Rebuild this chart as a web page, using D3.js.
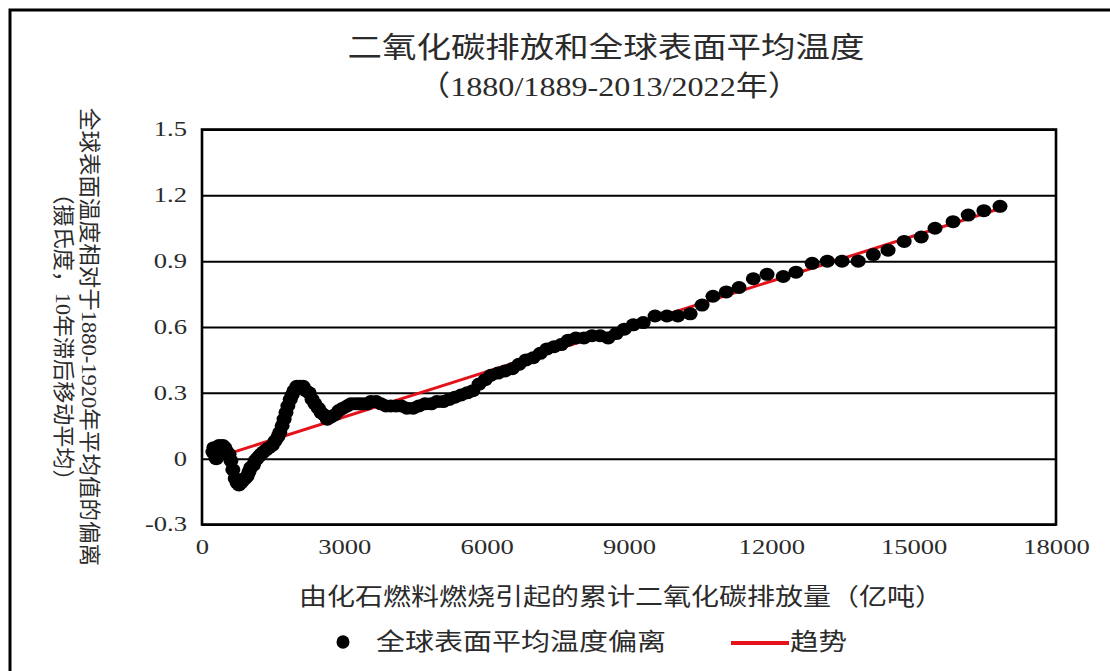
<!DOCTYPE html>
<html><head><meta charset="utf-8">
<script src="https://cdn.jsdelivr.net/npm/d3@7"></script>
<style>body{margin:0;background:#fff}svg{display:block}</style>
</head><body><svg id="c" width="1110" height="671"></svg>
<script>
// ---- data ----
const emissions = [230,250,270,300,320,360,400,440,480,530,
 570,610,650,700,740,780,820,860,910,950,
 990,1030,1080,1120,1160,1200,1240,1290,1350,1410,
 1480,1540,1600,1640,1690,1730,1770,1810,1860,1900,
 1940,2000,2070,2130,2190,2260,2320,2380,2450,2510,
 2570,2640,2720,2800,2890,2970,3060,3140,3230,3310,
 3390,3480,3560,3670,3770,3880,3980,4090,4200,4320,
 4450,4570,4700,4830,4950,5080,5210,5330,5460,5590,
 5710,5840,5970,6090,6240,6390,6540,6680,6830,6980,
 7130,7270,7420,7570,7720,7880,8050,8220,8390,8560,
 8730,8900,9090,9300,9550,9800,10030,10290,10540,10770,
 11050,11320,11620,11910,12250,12520,12860,13180,13490,13830,
 14150,14460,14800,15160,15450,15830,16150,16480,16820];
const tempAnomaly = [0.03,0.05,0.02,0.00,0.04,0.06,0.05,0.06,0.05,0.03,
 0.02,-0.01,-0.05,-0.09,-0.11,-0.12,-0.11,-0.10,-0.09,-0.08,
 -0.06,-0.04,-0.03,-0.01,0.00,0.01,0.02,0.03,0.04,0.05,
 0.06,0.08,0.10,0.12,0.15,0.18,0.21,0.24,0.27,0.29,
 0.31,0.33,0.33,0.33,0.31,0.30,0.27,0.25,0.23,0.21,
 0.20,0.18,0.19,0.20,0.22,0.23,0.24,0.25,0.25,0.25,
 0.25,0.25,0.26,0.26,0.25,0.24,0.24,0.24,0.24,0.23,
 0.23,0.24,0.25,0.25,0.26,0.26,0.27,0.28,0.29,0.30,
 0.31,0.34,0.36,0.38,0.39,0.40,0.41,0.43,0.45,0.46,
 0.48,0.50,0.51,0.52,0.54,0.55,0.55,0.56,0.56,0.55,
 0.57,0.59,0.61,0.62,0.65,0.65,0.65,0.66,0.70,0.74,
 0.76,0.78,0.82,0.84,0.83,0.85,0.89,0.90,0.90,0.90,
 0.93,0.95,0.99,1.01,1.05,1.08,1.11,1.13,1.15];
const trendEmissions = [230, 16820];
const trendTemp = [0.0, 1.14];
const xTicks = [0,3000,6000,9000,12000,15000,18000];
const yTicks = [-0.3,0,0.3,0.6,0.9,1.2,1.5];
const yTickLabels = ["-0.3","0","0.3","0.6","0.9","1.2","1.5"];
const titleText = "二氧化碳排放和全球表面平均温度";
const subtitleText = "（1880/1889-2013/2022年）";
const xTitle = "由化石燃料燃烧引起的累计二氧化碳排放量（亿吨）";
const yTitle1 = "全球表面温度相对于1880-1920年平均值的偏离";
const yTitle2 = "（摄氏度，10年滞后移动平均）";
const legendLabels = ["全球表面平均温度偏离","趋势"];

// ---- drawing ----
const FONT = "'Liberation Serif','Noto Sans CJK SC',serif";
const TXT = "#2b2b2b";
const RED = "#e5121b";
const svg = d3.select("#c");
svg.append("rect").attr("width",1110).attr("height",671).attr("fill","#fff");
// outer frame (right/bottom edges fall outside the picture)
svg.append("rect").attr("x",10).attr("y",10).attr("width",1200).attr("height",800)
  .attr("fill","none").attr("stroke","#000").attr("stroke-width",3);

const L=202, R=1056, T=129.5, B=524.5;
const x = d3.scaleLinear().domain([0,18000]).range([L,R]);
const y = d3.scaleLinear().domain([-0.3,1.5]).range([B,T]);

// y axis with gridlines
const gy = svg.append("g").attr("transform",`translate(${L},0)`)
  .call(d3.axisLeft(y).tickValues(yTicks).tickSize(-(R-L)).tickFormat((d,i)=>yTickLabels[i]));
gy.select(".domain").remove();
gy.selectAll("line").attr("stroke","#000").attr("stroke-width",2);
gy.selectAll("text").attr("x",-15/1.33).attr("transform","scale(1.33,1)")
  .attr("font-family",FONT).attr("font-size",20).attr("fill",TXT);

// x axis labels
const gx = svg.append("g").attr("transform",`translate(0,${B})`)
  .call(d3.axisBottom(x).tickValues(xTicks).tickSize(0).tickFormat(d3.format("d")));
gx.select(".domain").remove();
gx.selectAll("text").attr("y",23).attr("dy","0.35em").attr("transform","scale(1.33,1)")
  .attr("font-family",FONT).attr("font-size",20).attr("fill",TXT);

// plot border
svg.append("rect").attr("x",L).attr("y",T).attr("width",R-L).attr("height",B-T)
  .attr("fill","none").attr("stroke","#000").attr("stroke-width",2.6);

// trend line
const trend = trendEmissions.map((e,i)=>[e,trendTemp[i]]);
svg.append("path").datum(trend)
  .attr("d",d3.line().x(d=>x(d[0])).y(d=>y(d[1])))
  .attr("stroke",RED).attr("stroke-width",3).attr("fill","none");

// points
const pts = emissions.map((e,i)=>({e, t:tempAnomaly[i]}));
svg.append("g").selectAll("ellipse").data(pts).join("ellipse")
  .attr("cx",d=>x(d.e)).attr("cy",d=>y(d.t)).attr("rx",7.5).attr("ry",6.5).attr("fill","#000");

// texts
function label(txt, cx, cy, size, len, rot){
  const t = svg.append("text")
    .attr("transform",`translate(${cx},${cy})`+(rot?` rotate(${rot})`:""))
    .attr("text-anchor","middle").attr("dominant-baseline","central")
    .attr("font-family",FONT).attr("font-size",size).attr("fill",TXT).text(txt);
  if(len) t.attr("textLength",len).attr("lengthAdjust","spacingAndGlyphs");
  return t;
}
label(titleText, 606, 47.5, 29, 517);
label(subtitleText, 609, 86.5, 28, 382);
label(xTitle, 621, 597, 24, 644);
label(yTitle1, 89, 337, 22, 458, 90);
label(yTitle2, 63, 337, 22, 309, 90);

// legend
svg.append("ellipse").attr("cx",343).attr("cy",642).attr("rx",6.5).attr("ry",6.8).attr("fill","#000");
const lt1 = svg.append("text").attr("x",376).attr("y",642).attr("dominant-baseline","central")
  .attr("font-family",FONT).attr("font-size",24).attr("fill",TXT)
  .attr("textLength",290).attr("lengthAdjust","spacingAndGlyphs").text(legendLabels[0]);
svg.append("line").attr("x1",731).attr("x2",789).attr("y1",643).attr("y2",643)
  .attr("stroke",RED).attr("stroke-width",4);
svg.append("text").attr("x",790).attr("y",642).attr("dominant-baseline","central")
  .attr("font-family",FONT).attr("font-size",24).attr("fill",TXT)
  .attr("textLength",57).attr("lengthAdjust","spacingAndGlyphs").text(legendLabels[1]);
</script></body></html>
